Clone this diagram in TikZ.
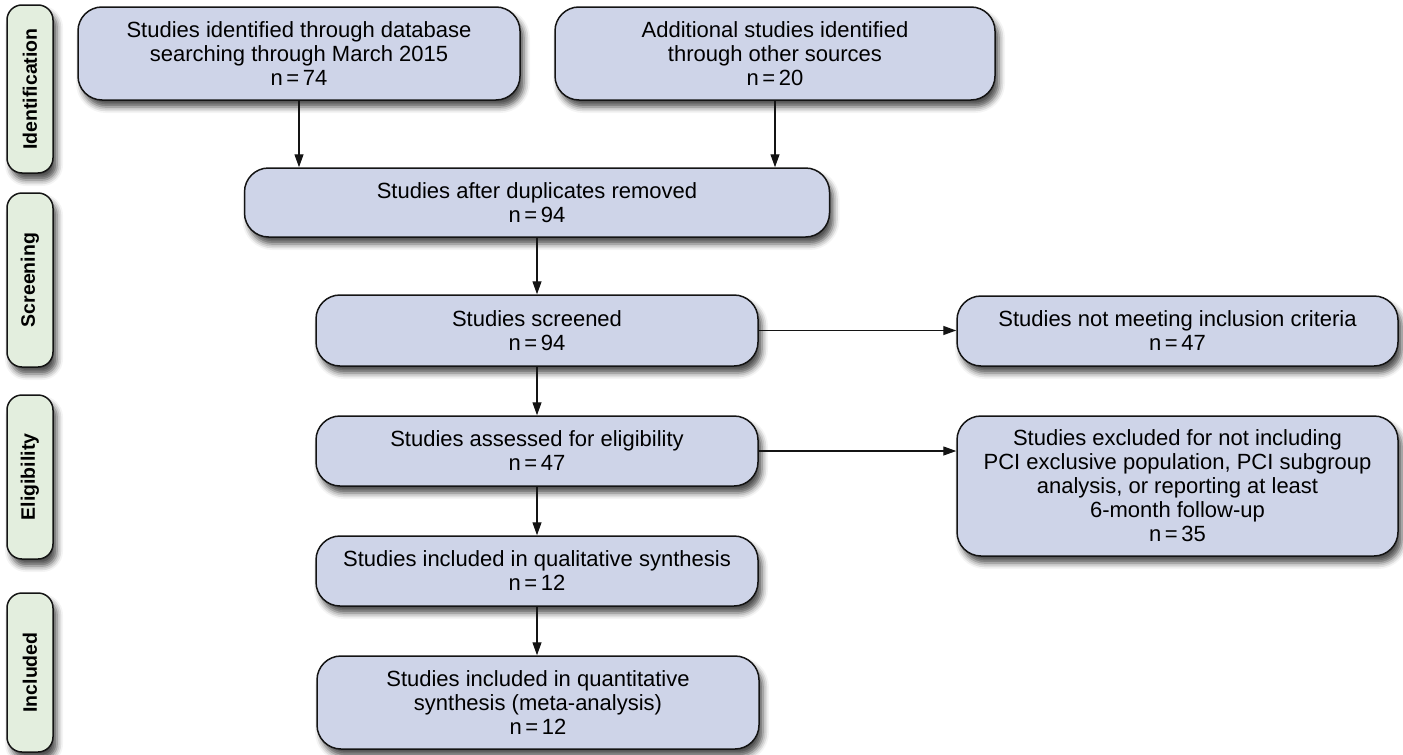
\documentclass[tikz,border=0pt]{standalone}
\usepackage{fontspec}
\setmainfont{Liberation Sans}
\usepackage{tikz}
\usepackage{xcolor}
\usetikzlibrary{arrows.meta,positioning,shadows.blur}
\definecolor{boxfill}{HTML}{CED4E8}
\definecolor{phasefill}{HTML}{E3EEDE}
\definecolor{ink}{HTML}{141414}
\tikzset{
  stagebox/.style={draw=ink,fill=boxfill,line width=1.5pt,rounded corners=24pt,
                   align=center,inner sep=2pt,
                   font=\fontsize{22}{24}\selectfont,
                   blur shadow={shadow xshift=4pt,shadow yshift=-7pt,
                                shadow blur radius=6pt,shadow opacity=70}},
  phasebox/.style={draw=ink,fill=phasefill,line width=1.5pt,rounded corners=15pt,
                   rotate=90,minimum height=46pt,inner sep=0pt,
                   font=\fontsize{19.5}{22}\selectfont\bfseries,
                   blur shadow={shadow xshift=4pt,shadow yshift=-7pt,
                                shadow blur radius=6pt,shadow opacity=70}},
  flowarr/.style={-{Triangle[length=13pt,width=9pt]},line width=1.3pt,color=ink}
}

\begin{document}
\begin{tikzpicture}[x=1pt,y=-1pt]
  \useasboundingbox (0,0) rectangle (1403,755);

  % phase labels on the left
  \node[phasebox,minimum width=168pt] (idlab)  at (30,89)    {Identification};
  \node[phasebox,minimum width=174pt] (scrlab) at (30,280)   {Screening};
  \node[phasebox,minimum width=164pt] (elilab) at (30,477)   {Eligibility};
  \node[phasebox,minimum width=159pt] (inclab) at (30,672.5) {Included};

  % flow boxes
  \node[stagebox,minimum width=442pt,minimum height=93pt] (dbsearch) at (299,53.5)
    {Studies identified through database\\searching through March 2015\\n\,=\,74};
  \node[stagebox,minimum width=440pt,minimum height=93pt] (othersrc) at (775,53.5)
    {Additional studies identified\\through other sources\\n\,=\,20};
  \node[stagebox,minimum width=585pt,minimum height=69pt] (dedup) at (537,202.5)
    {Studies after duplicates removed\\n\,=\,94};
  \node[stagebox,minimum width=442pt,minimum height=71pt] (screened) at (537,330.5)
    {Studies screened\\n\,=\,94};
  \node[stagebox,minimum width=441pt,minimum height=70pt] (notmeet) at (1177.5,331)
    {Studies not meeting inclusion criteria\\n\,=\,47};
  \node[stagebox,minimum width=442pt,minimum height=70pt] (eligible) at (537,451)
    {Studies assessed for eligibility\\n\,=\,47};
  \node[stagebox,minimum width=441pt,minimum height=140pt] (excluded) at (1177.5,486)
    {Studies excluded for not including\\PCI exclusive population, PCI subgroup\\analysis, or reporting at least\\6-month follow-up\\n\,=\,35};
  \node[stagebox,minimum width=442pt,minimum height=70pt] (qualit) at (537,571)
    {Studies included in qualitative synthesis\\n\,=\,12};
  \node[stagebox,minimum width=442pt,minimum height=93pt] (quantit) at (538,702.5)
    {Studies included in quantitative\\synthesis (meta-analysis)\\n\,=\,12};

  % connectors
  \draw[flowarr] (dbsearch.south) -- (dbsearch.south |- dedup.north);
  \draw[flowarr] (othersrc.south) -- (othersrc.south |- dedup.north);
  \draw[flowarr] (dedup.south) -- (screened.north);
  \draw[flowarr] (screened.east) -- (screened.east -| notmeet.west);
  \draw[flowarr] (screened.south) -- (eligible.north);
  \draw[flowarr] (eligible.east) -- (eligible.east -| excluded.west);
  \draw[flowarr] (eligible.south) -- (qualit.north);
  \draw[flowarr] (qualit.south) -- (qualit.south |- quantit.north);
\end{tikzpicture}
\end{document}
